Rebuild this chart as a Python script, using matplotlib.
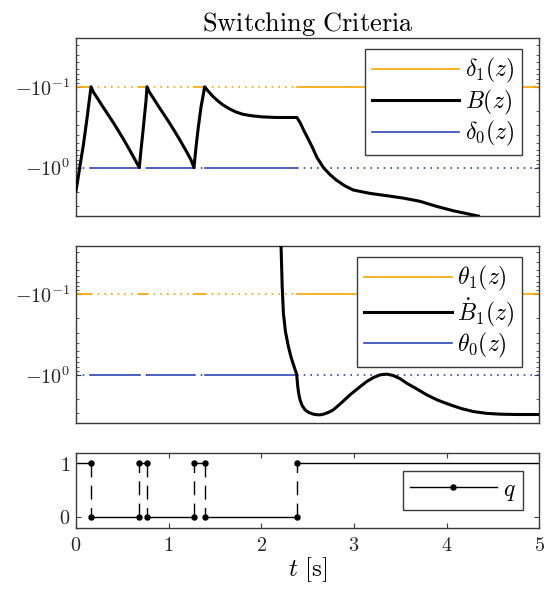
import numpy as np
import matplotlib
matplotlib.use("Agg")
import matplotlib.pyplot as plt
from matplotlib.ticker import FixedLocator, FuncFormatter
from matplotlib.lines import Line2D

# hybrid arc: jump times and the mode q on each flow interval
t_jump = [0.162, 0.683, 0.766, 1.273, 1.388, 2.384]
q_mode = [1, 0, 1, 0, 1, 0, 1]
t_end = 5.0

# thresholds
delta1 = -0.1
delta0 = -1.0
theta1 = -0.1
theta0 = -1.0

# B(z)
t_B = [0.0, 0.02, 0.04, 0.06, 0.08, 0.10, 0.12, 0.14, 0.162,
       0.19, 0.23, 0.28, 0.34, 0.40, 0.46, 0.52, 0.58, 0.64, 0.683,
       0.70, 0.72, 0.74, 0.755, 0.766,
       0.794, 0.834, 0.884, 0.944, 1.004, 1.064, 1.124, 1.184, 1.238, 1.273,
       1.295, 1.32, 1.349, 1.37, 1.388,
       1.42, 1.47, 1.52, 1.58, 1.65, 1.72, 1.80, 1.90, 2.00, 2.15, 2.384,
       2.42, 2.46, 2.50, 2.55, 2.60, 2.67, 2.74, 2.813, 2.90, 2.993,
       3.173, 3.353, 3.533, 3.713, 3.893, 4.073, 4.342]
B_val = [-1.93, -1.41, -1.0, -0.72, -0.52, -0.355, -0.24, -0.158, -0.1,
         -0.1175, -0.138, -0.17, -0.216, -0.275, -0.355, -0.462, -0.61, -0.813, -1.0,
         -0.63, -0.38, -0.224, -0.151, -0.1,
         -0.1175, -0.138, -0.17, -0.216, -0.275, -0.355, -0.462, -0.61, -0.79, -1.0,
         -0.56, -0.316, -0.178, -0.132, -0.1,
         -0.111, -0.129, -0.146, -0.166, -0.186, -0.204, -0.219, -0.229, -0.2355, -0.24, -0.24,
         -0.28, -0.35, -0.43, -0.56, -0.75, -1.0, -1.22, -1.44, -1.68, -1.90,
         -2.09, -2.23, -2.39, -2.62, -3.03, -3.43, -3.99]

# time derivative of B, middle panel
t_dB = [2.205, 2.213, 2.225, 2.238, 2.26, 2.292, 2.32, 2.353, 2.37, 2.382,
        2.393, 2.405, 2.418, 2.44, 2.472, 2.51, 2.562, 2.60, 2.634, 2.68,
        2.73, 2.777, 2.85, 2.957, 3.05, 3.137, 3.21, 3.281, 3.353, 3.425,
        3.50, 3.569, 3.68, 3.785, 3.90, 4.037, 4.16, 4.289, 4.43, 4.576,
        4.75, 5.0]
dB_val = [-0.01, -0.0257, -0.08, -0.172, -0.29, -0.446, -0.6, -0.789, -0.9, -1.0,
          -1.40, -1.75, -2.04, -2.4, -2.71, -2.92, -3.07, -3.12, -3.13, -3.05,
          -2.9, -2.71, -2.3, -1.77, -1.45, -1.21, -1.08, -1.0, -0.98, -1.02,
          -1.12, -1.27, -1.5, -1.77, -2.05, -2.35, -2.62, -2.85, -3.0, -3.07,
          -3.1, -3.1]

ORANGE = "#f7a400"
BLUE = "#2f45b5"
EDGE = "#3a3a3a"

plt.rcParams.update({
    "mathtext.fontset": "cm",
    "font.family": "serif",
    "font.size": 14.5,
    "axes.edgecolor": EDGE,
    "axes.linewidth": 1.0,
    "xtick.color": EDGE,
    "ytick.color": EDGE,
    "xtick.labelcolor": "#262626",
    "ytick.labelcolor": "#262626",
    "legend.fontsize": 17,
})

fig = plt.figure(figsize=(5.54, 5.91), dpi=100)
ax1 = fig.add_axes([0.1372, 0.6345, 0.8363, 0.3007])
ax2 = fig.add_axes([0.1372, 0.2838, 0.8363, 0.3005])
ax3 = fig.add_axes([0.1372, 0.1071, 0.8363, 0.1269])

edges = [0.0] + t_jump + [t_end]


def threshold(ax, level, color, solid_mode):
    for a, b, q in zip(edges[:-1], edges[1:], q_mode):
        ls = "-" if q == solid_mode else (0, (1, 3))
        ax.plot([a, b], [level, level], color=color, lw=1.2, ls=ls, zorder=2)


def log_axis(ax):
    ax.set_yscale("symlog", linthresh=1e-3)
    ax.set_ylim(-10**0.6, -10**-1.6)
    ax.set_xlim(0, t_end)
    ax.yaxis.set_major_locator(FixedLocator([-1.0, -0.1]))
    ax.yaxis.set_major_formatter(FuncFormatter(
        lambda v, p: r"$-10^{%d}$" % round(np.log10(-v))))
    minor = [-m * 10.0**e for e in (-2, -1, 0) for m in range(2, 10)]
    ax.yaxis.set_minor_locator(FixedLocator(minor))
    ax.set_xticks([])
    ax.tick_params(axis="y", which="both", direction="in", left=True, right=True, pad=4)
    ax.tick_params(axis="y", which="major", length=3.5)
    ax.tick_params(axis="y", which="minor", length=2.5)


leg_kw = dict(fancybox=False, framealpha=1, edgecolor=EDGE, handlelength=3.7,
              handletextpad=0.25, borderpad=0.3, labelspacing=0.1, borderaxespad=0)

# top panel
threshold(ax1, delta1, ORANGE, 1)
threshold(ax1, delta0, BLUE, 0)
ax1.plot(t_B, B_val, color="k", lw=2.2, zorder=3)
log_axis(ax1)
ax1.set_title(r"$\mathrm{Switching\ Criteria}$", fontsize=19, pad=3)
h1 = [Line2D([], [], color=ORANGE, lw=1.2),
      Line2D([], [], color="k", lw=2.2),
      Line2D([], [], color=BLUE, lw=1.2)]
ax1.legend(h1, [r"$\delta_1(z)$", r"$B(z)$", r"$\delta_0(z)$"], loc="upper right",
           bbox_to_anchor=(1 - 17.6 / 463, 1 - 11 / 177.7), **leg_kw)

# middle panel
threshold(ax2, theta1, ORANGE, 1)
threshold(ax2, theta0, BLUE, 0)
ax2.plot(t_dB, dB_val, color="k", lw=2.2, zorder=3)
log_axis(ax2)
h2 = [Line2D([], [], color=ORANGE, lw=1.2),
      Line2D([], [], color="k", lw=2.2),
      Line2D([], [], color=BLUE, lw=1.2)]
ax2.legend(h2, [r"$\theta_1(z)$", r"$\dot{B}_1(z)$", r"$\theta_0(z)$"], loc="upper right",
           bbox_to_anchor=(1 - 17 / 463, 1 - 11.6 / 177.6), **leg_kw)

# bottom panel: mode q
for a, b, q in zip(edges[:-1], edges[1:], q_mode):
    ax3.plot([a, b], [q, q], color="k", lw=1.0)
for i, tj in enumerate(t_jump):
    q0, q1 = q_mode[i], q_mode[i + 1]
    ax3.plot([tj, tj], [q0, q1], color="k", lw=1.0, ls=(0, (10, 6)))
    ax3.plot([tj, tj], [q0, q1], ls="none", marker="o", color="k", ms=3.6)
ax3.set_xlim(0, t_end)
ax3.set_ylim(-0.2, 1.2)
ax3.set_xticks([0, 1, 2, 3, 4, 5])
ax3.set_yticks([0, 1])
fmt = FuncFormatter(lambda v, p: r"$%g$" % v)
ax3.xaxis.set_major_formatter(fmt)
ax3.yaxis.set_major_formatter(fmt)
ax3.tick_params(which="both", direction="in", top=True, right=True, length=3.5)
ax3.tick_params(axis="x", pad=6)
ax3.tick_params(axis="y", pad=4)
ax3.set_xlabel(r"$t\ [\mathrm{s}]$", fontsize=18, labelpad=0)
hq = [Line2D([], [], color="k", lw=1.0, marker="o", ms=3.6)]
ax3.legend(hq, [r"$q$"], loc="center right", bbox_to_anchor=(1 - 16.6 / 463, 0.5),
           numpoints=1, **leg_kw)

fig.savefig("out.png", dpi=100)
